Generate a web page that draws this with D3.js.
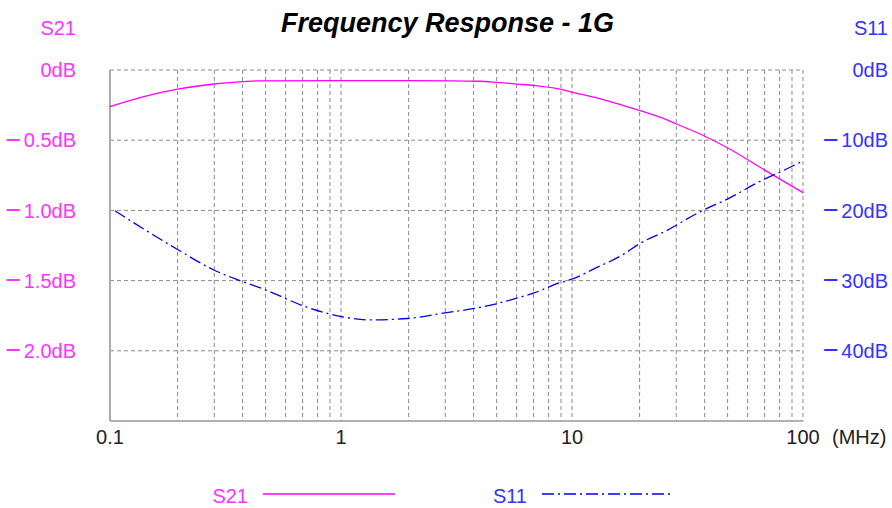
<!DOCTYPE html>
<html><head><meta charset="utf-8">
<script src="https://cdn.jsdelivr.net/npm/d3@7"></script>
<style>body{margin:0;background:#fff}svg{display:block}</style>
</head><body>
<svg id="c" width="892" height="508"></svg>
<script>
const title = "Frequency Response - 1G";
const xTicks = [0.1, 1, 10, 100];
const xTickLabels = ["0.1", "1", "10", "100"];
const xUnit = "(MHz)";
// minor grid positions inside each decade, as drawn in the reference
const minorGridMult = [1.962, 2.828, 3.75, 4.716, 5.757, 6.82, 7.92, 8.96];
const leftTicks = [0, -0.5, -1.0, -1.5, -2.0];
const leftTickLabels = ["0dB", "\u22120.5dB", "\u22121.0dB", "\u22121.5dB", "\u22122.0dB"];
const rightTicks = [0, -10, -20, -30, -40];
const rightTickLabels = ["0dB", "\u221210dB", "\u221220dB", "\u221230dB", "\u221240dB"];
const s21Freq = [0.1, 0.14, 0.196, 0.282, 0.375, 0.43, 1, 2, 3, 4.0, 4.72, 5.76, 6.8, 8.87, 9.97, 14, 19.7, 25.5, 28.2, 37.4, 47.5, 68, 100];
const s21Vals = [-0.261, -0.19, -0.137, -0.0996, -0.083, -0.077, -0.076, -0.076, -0.077, -0.080, -0.088, -0.100, -0.110, -0.137, -0.157, -0.216, -0.29, -0.352, -0.383, -0.47, -0.557, -0.711, -0.873];
const s11Freq = [0.105, 0.1945, 0.28, 0.372, 0.47, 0.687, 0.995, 1.34, 1.94, 2.82, 3.72, 4.7, 5.76, 6.8, 8.87, 9.97, 12.5, 16.8, 19.7, 25.6, 35.8, 47.3, 68, 80, 100];
const s11Vals = [-20.06, -25.5, -28.45, -30.1, -31.3, -33.6, -35.1, -35.6, -35.4, -34.6, -34.0, -33.3, -32.5, -31.8, -30.3, -29.8, -28.3, -26.2, -24.7, -22.9, -20.2, -18.35, -15.55, -14.5, -12.95];

const svg = d3.select("#c");
const L = 110, R = 803, T = 70, B = 421;
const x = d3.scaleLog().domain([0.1, 100]).range([L, R]);
const yL = d3.scaleLinear().domain([0, -2.5]).range([T, B]);
const yR = d3.scaleLinear().domain([0, -50]).range([T, B]);
const PINK = "#ff33ff", BLUE = "#3333ff", GRID = "#8a8a8a";
const font = "Liberation Sans, Arial, sans-serif";
const FS = 20;

// vertical grid
const vgrid = [];
[0.1, 1, 10].forEach(d => { minorGridMult.forEach(m => vgrid.push(d * m)); vgrid.push(d * 10); });
svg.append("g").selectAll("line").data(vgrid).join("line")
  .attr("x1", d => x(d)).attr("x2", d => x(d)).attr("y1", T).attr("y2", B)
  .attr("stroke", GRID).attr("stroke-dasharray", "4,3");
// horizontal grid
svg.append("g").selectAll("line").data(leftTicks).join("line")
  .attr("x1", L).attr("x2", R).attr("y1", d => yL(d)).attr("y2", d => yL(d))
  .attr("stroke", GRID).attr("stroke-dasharray", "4,3");
// axes solid
svg.append("line").attr("x1", L).attr("x2", L).attr("y1", T).attr("y2", B).attr("stroke", "#aaa").attr("stroke-width", 2);
svg.append("line").attr("x1", L).attr("x2", R).attr("y1", B).attr("y2", B).attr("stroke", "#999").attr("stroke-width", 1.5);

// title
svg.append("text").attr("x", 447.5).attr("y", 32).attr("text-anchor", "middle")
  .attr("font-family", font).attr("font-weight", "bold").attr("font-style", "italic").attr("font-size", 27)
  .attr("fill", "#000").text(title);

// tick label with a wide minus sign, like the reference
function tickLabel(sel, str) {
  if (str.startsWith("\u2212")) {
    sel.append("tspan").attr("font-size", 27).attr("dy", 1.1).text("\u2212");
    sel.append("tspan").attr("dy", -1.1).attr("dx", 2.5).text(str.slice(1));
  } else {
    sel.text(str);
  }
}

// left labels
svg.append("text").attr("x", 76).attr("y", 34.5).attr("text-anchor", "end").attr("font-family", font).attr("font-size", FS).attr("fill", PINK).text("S21");
svg.append("g").selectAll("text").data(leftTicks).join("text")
  .attr("x", 76).attr("y", d => yL(d) + 7.2).attr("text-anchor", "end")
  .attr("font-family", font).attr("font-size", FS).attr("fill", PINK)
  .each(function (d, i) { tickLabel(d3.select(this), leftTickLabels[i]); });
// right labels
svg.append("text").attr("x", 888).attr("y", 34.5).attr("text-anchor", "end").attr("font-family", font).attr("font-size", FS).attr("fill", BLUE).text("S11");
svg.append("g").selectAll("text").data(rightTicks).join("text")
  .attr("x", 888).attr("y", d => yR(d) + 7.2).attr("text-anchor", "end")
  .attr("font-family", font).attr("font-size", FS).attr("fill", BLUE)
  .each(function (d, i) { tickLabel(d3.select(this), rightTickLabels[i]); });
// x labels
svg.append("g").selectAll("text").data(xTicks).join("text")
  .attr("x", d => x(d)).attr("y", 444).attr("text-anchor", "middle")
  .attr("font-family", font).attr("font-size", FS).attr("fill", "#222")
  .text((d, i) => xTickLabels[i]);
svg.append("text").attr("x", 832).attr("y", 444).attr("font-family", font).attr("font-size", FS).attr("fill", "#222").text(xUnit);

// lines
const lineL = d3.line().x(d => x(d[0])).y(d => yL(d[1])).curve(d3.curveMonotoneX);
const lineR = d3.line().x(d => x(d[0])).y(d => yR(d[1])).curve(d3.curveMonotoneX);
svg.append("path").attr("d", lineL(s21Freq.map((f, i) => [f, s21Vals[i]])))
  .attr("fill", "none").attr("stroke", "#ff00ff").attr("stroke-width", 1.3);
const dash = "12,4,2,4";
svg.append("path").attr("d", lineR(s11Freq.map((f, i) => [f, s11Vals[i]])))
  .attr("fill", "none").attr("stroke", "#0000ee").attr("stroke-width", 1.3).attr("stroke-dasharray", dash);

// legend
svg.append("text").attr("x", 248).attr("y", 502.5).attr("text-anchor", "end").attr("font-family", font).attr("font-size", FS).attr("fill", PINK).text("S21");
svg.append("line").attr("x1", 263).attr("x2", 395).attr("y1", 494).attr("y2", 494).attr("stroke", "#ff00ff").attr("stroke-width", 1.3);
svg.append("text").attr("x", 527).attr("y", 502.5).attr("text-anchor", "end").attr("font-family", font).attr("font-size", FS).attr("fill", BLUE).text("S11");
svg.append("line").attr("x1", 542).attr("x2", 674).attr("y1", 494).attr("y2", 494).attr("stroke", "#0000ee").attr("stroke-width", 1.3).attr("stroke-dasharray", dash);
</script>
</body></html>
